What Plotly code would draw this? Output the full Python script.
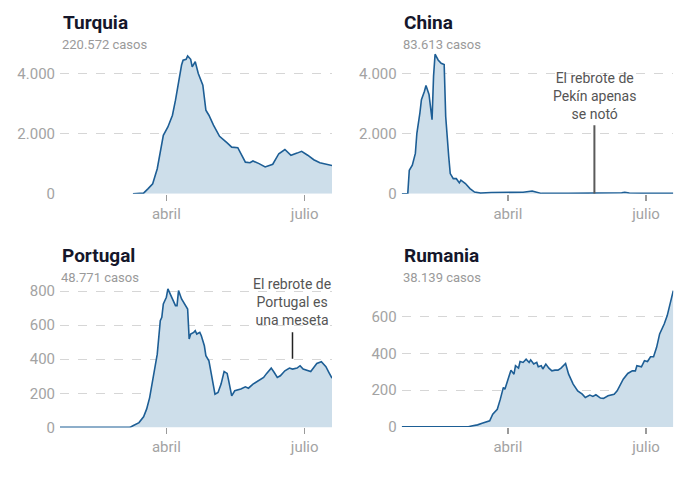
import plotly.graph_objects as go

# ---------------- data (7-day average of daily cases) ----------------
turquia_dates = ["2020-03-10", "2020-03-17", "2020-03-20", "2020-03-23", "2020-03-26", "2020-03-28",
                 "2020-03-30", "2020-04-02", "2020-04-05", "2020-04-07", "2020-04-09", "2020-04-11",
                 "2020-04-12", "2020-04-14", "2020-04-15", "2020-04-17", "2020-04-18", "2020-04-20",
                 "2020-04-22", "2020-04-25", "2020-04-27", "2020-04-29", "2020-05-02", "2020-05-06",
                 "2020-05-11", "2020-05-14", "2020-05-18", "2020-05-21", "2020-05-23", "2020-05-26",
                 "2020-05-28", "2020-06-01", "2020-06-05", "2020-06-10", "2020-06-12", "2020-06-14",
                 "2020-06-18", "2020-06-22", "2020-06-26", "2020-06-29", "2020-07-03", "2020-07-07",
                 "2020-07-11", "2020-07-19"]
turquia_values = [0, 20, 170, 330, 830, 1440,
                  1940, 2220, 2610, 3110, 3720, 4280,
                  4440, 4470, 4580, 4470, 4220, 4390,
                  4000, 3610, 2780, 2610, 2280, 1910,
                  1690, 1550, 1530, 1220, 1050, 1030,
                  1090, 1000, 890, 980, 1170, 1330,
                  1470, 1280, 1350, 1410, 1280, 1130,
                  1030, 940]

china_dates = ["2020-01-22", "2020-01-26", "2020-01-27", "2020-01-29", "2020-01-31", "2020-02-01",
               "2020-02-03", "2020-02-04", "2020-02-06", "2020-02-07", "2020-02-09", "2020-02-10",
               "2020-02-11", "2020-02-12", "2020-02-13", "2020-02-15", "2020-02-17", "2020-02-19",
               "2020-02-20", "2020-02-22", "2020-02-23", "2020-02-25", "2020-02-27", "2020-02-29",
               "2020-03-01", "2020-03-04", "2020-03-07", "2020-03-10", "2020-03-14", "2020-03-21",
               "2020-04-01", "2020-04-11", "2020-04-17", "2020-04-20", "2020-04-23", "2020-05-11",
               "2020-06-10", "2020-06-15", "2020-06-17", "2020-06-20", "2020-06-30", "2020-07-19"]
china_values = [0, 0, 780, 950, 1340, 2010,
                2690, 3130, 3410, 3600, 3300, 2960,
                2460, 3910, 4640, 4450, 4340, 4300,
                2570, 1230, 670, 500, 500, 360,
                450, 340, 170, 55, 20, 40,
                40, 50, 90, 60, 10, 10,
                10, 30, 50, 25, 15, 15]

portugal_dates = ["2020-01-22", "2020-03-08", "2020-03-10", "2020-03-14", "2020-03-17", "2020-03-19",
                  "2020-03-21", "2020-03-23", "2020-03-26", "2020-03-28", "2020-03-29", "2020-03-30",
                  "2020-04-01", "2020-04-02", "2020-04-04", "2020-04-05", "2020-04-07", "2020-04-08",
                  "2020-04-09", "2020-04-11", "2020-04-13", "2020-04-15", "2020-04-16", "2020-04-17",
                  "2020-04-19", "2020-04-20", "2020-04-21", "2020-04-23", "2020-04-24", "2020-04-26",
                  "2020-04-27", "2020-04-29", "2020-04-30", "2020-05-02", "2020-05-03", "2020-05-05",
                  "2020-05-07", "2020-05-09", "2020-05-11", "2020-05-12", "2020-05-14", "2020-05-16",
                  "2020-05-20", "2020-05-23", "2020-05-25", "2020-05-28", "2020-06-01", "2020-06-04",
                  "2020-06-06", "2020-06-09", "2020-06-11", "2020-06-13", "2020-06-15", "2020-06-18",
                  "2020-06-21", "2020-06-23", "2020-06-26", "2020-06-28", "2020-06-30", "2020-07-03",
                  "2020-07-05", "2020-07-07", "2020-07-09", "2020-07-12", "2020-07-15", "2020-07-17",
                  "2020-07-19"]
portugal_values = [0, 0, 10, 28, 62, 107,
                   175, 274, 430, 626, 646, 725,
                   764, 813, 774, 764, 715, 715,
                   803, 754, 725, 695, 519, 548,
                   558, 568, 548, 558, 538, 479,
                   421, 391, 342, 225, 195, 205,
                   254, 328, 317, 274, 185, 215,
                   225, 238, 230, 254, 278, 293,
                   317, 348, 322, 293, 303, 332,
                   348, 342, 348, 362, 342, 336,
                   328, 352, 375, 385, 356, 322,
                   289]

rumania_dates = ["2020-01-22", "2020-03-06", "2020-03-08", "2020-03-12", "2020-03-15", "2020-03-18",
                 "2020-03-20", "2020-03-22", "2020-03-25", "2020-03-27", "2020-03-29", "2020-03-30",
                 "2020-04-01", "2020-04-03", "2020-04-05", "2020-04-06", "2020-04-08", "2020-04-09",
                 "2020-04-11", "2020-04-13", "2020-04-15", "2020-04-16", "2020-04-18", "2020-04-20",
                 "2020-04-21", "2020-04-23", "2020-04-24", "2020-04-26", "2020-04-28", "2020-04-30",
                 "2020-05-02", "2020-05-04", "2020-05-06", "2020-05-09", "2020-05-11", "2020-05-14",
                 "2020-05-17", "2020-05-20", "2020-05-22", "2020-05-25", "2020-05-27", "2020-05-29",
                 "2020-06-01", "2020-06-03", "2020-06-06", "2020-06-10", "2020-06-12", "2020-06-14",
                 "2020-06-16", "2020-06-19", "2020-06-22", "2020-06-24", "2020-06-25", "2020-06-28",
                 "2020-06-30", "2020-07-02", "2020-07-04", "2020-07-06", "2020-07-08", "2020-07-10",
                 "2020-07-13", "2020-07-15", "2020-07-17", "2020-07-19"]
rumania_values = [0, 0, 5, 11, 20, 29,
                  33, 69, 96, 151, 215, 205,
                  260, 309, 287, 333, 320, 356,
                  351, 369, 351, 365, 342, 351,
                  327, 333, 315, 342, 320, 305,
                  309, 309, 320, 345, 287, 233,
                  196, 178, 160, 173, 166, 175,
                  157, 155, 169, 178, 196, 229,
                  260, 291, 305, 305, 333, 327,
                  360, 356, 382, 382, 433, 506,
                  560, 606, 669, 742]

countries = ["Turquia", "China", "Portugal", "Rumania"]
totals = ["220.572 casos", "83.613 casos", "48.771 casos", "38.139 casos"]

x_tickvals = ["2020-04-01", "2020-07-01"]
x_ticktext = ["abril", "julio"]
x_range = ["2020-01-22", "2020-07-19"]

y_ticks_big = [0, 2000, 4000]
y_ticks_big_text = ["0", "2.000", "4.000"]
y_ticks_pt = [0, 200, 400, 600, 800]
y_ticks_ro = [0, 200, 400, 600]

annot_china = "El rebrote de<br>Pekín apenas<br>se notó"
annot_portugal = "El rebrote de<br>Portugal es<br>una meseta"

# ---------------- styling ----------------
W, H = 700, 479          # layout grid (reference pixels)
FIG_H = 489              # rendered height (capture is squeezed to 479)
FONT = "Roboto"
LINE = "#1d5e95"
FILL = "#cddeea"
GRID = "#d6d6d6"
TICKFONT = dict(family=FONT, size=15, color="#a3a3a3")


def px(x):
    return x / W


def py(y):
    return 1 - y / H


fig = go.Figure()

series = [
    (turquia_dates, turquia_values, "x", "y"),
    (china_dates, china_values, "x2", "y2"),
    (portugal_dates, portugal_values, "x3", "y3"),
    (rumania_dates, rumania_values, "x4", "y4"),
]
for (d, v, xa, ya) in series:
    fig.add_trace(go.Scatter(x=d, y=v, xaxis=xa, yaxis=ya, mode="lines",
                             line=dict(color=LINE, width=1.6),
                             fill="tozeroy", fillcolor=FILL, hoverinfo="skip",
                             showlegend=False))

left = [px(60), px(332)]
right = [px(401.7), px(673.3)]
top = [py(193.3), py(193.3 - 4700 * 0.03)]
bl = [py(426.5), py(426.5 - 850 * 0.17)]
br = [py(426.0), py(426.0 - 745 * 0.1833)]


def xax(domain, anchor):
    return dict(domain=domain, anchor=anchor, type="date", range=x_range,
                tickvals=x_tickvals, ticktext=x_ticktext, showgrid=False,
                zeroline=False, showline=False, ticks="outside", ticklen=6,
                tickwidth=1.5, tickcolor="#9a9a9a", tickfont=TICKFONT, fixedrange=True)


def yax(domain, anchor, rng, vals, text):
    return dict(domain=domain, anchor=anchor, range=rng, tickvals=vals, ticktext=text,
                showgrid=True, gridcolor=GRID, griddash="dash", gridwidth=1,
                zeroline=False, showline=False, ticks="", tickfont=TICKFONT,
                ticklabelstandoff=4, fixedrange=True)


fig.update_layout(
    width=W, height=FIG_H,
    margin=dict(l=0, r=0, t=0, b=0),
    paper_bgcolor="white", plot_bgcolor="white",
    font=dict(family=FONT),
    hovermode=False,
    xaxis=xax(left, "y"),
    yaxis=yax(top, "x", [0, 4700], y_ticks_big, y_ticks_big_text),
    xaxis2=xax(right, "y2"),
    yaxis2=yax(top, "x2", [0, 4700], y_ticks_big, y_ticks_big_text),
    xaxis3=xax(left, "y3"),
    yaxis3=yax(bl, "x3", [0, 850], y_ticks_pt, [str(v) for v in y_ticks_pt]),
    xaxis4=xax(right, "y4"),
    yaxis4=yax(br, "x4", [0, 745], y_ticks_ro, [str(v) for v in y_ticks_ro]),
)

# titles and subtitles
title_pos = [(61, 22, 44), (402, 22, 44), (60, 255, 277), (402, 255, 277)]
for name, tot, (tx, ty, sy) in zip(countries, totals, title_pos):
    fig.add_annotation(text="<b>" + name + "</b>", x=px(tx), y=py(ty), xref="paper", yref="paper",
                       xanchor="left", yanchor="middle", showarrow=False,
                       font=dict(family=FONT, size=19, color="#15172b"))
    fig.add_annotation(text=tot, x=px(tx - 1), y=py(sy), xref="paper", yref="paper",
                       xanchor="left", yanchor="middle", showarrow=False,
                       font=dict(family=FONT, size=13, color="#9a9a9a"))

# call-outs
fig.add_annotation(text=annot_china, x="2020-05-28", xref="x2", y=py(95.5), yref="paper",
                   xanchor="center", yanchor="middle", showarrow=False, align="center",
                   font=dict(family=FONT, size=14, color="#555555"))
fig.add_shape(type="line", xref="x2", yref="y2", x0="2020-05-28", x1="2020-05-28",
              y0=0, y1=2277, line=dict(color="#5a5a5a", width=2))

fig.add_annotation(text=annot_portugal, x="2020-06-23", xref="x3", y=py(301.5), yref="paper",
                   xanchor="center", yanchor="middle", showarrow=False, align="center",
                   font=dict(family=FONT, size=14, color="#555555"))
fig.add_shape(type="line", xref="x3", yref="y3", x0="2020-06-23", x1="2020-06-23",
              y0=403, y1=558, line=dict(color="#222222", width=1.5))

post = ("document.documentElement.style.margin='0';document.documentElement.style.overflow='hidden';"
        "document.body.style.margin='0';document.body.style.overflow='hidden';")
fig.write_html("out.html", config={"displayModeBar": False, "staticPlot": True},
               post_script=post)
